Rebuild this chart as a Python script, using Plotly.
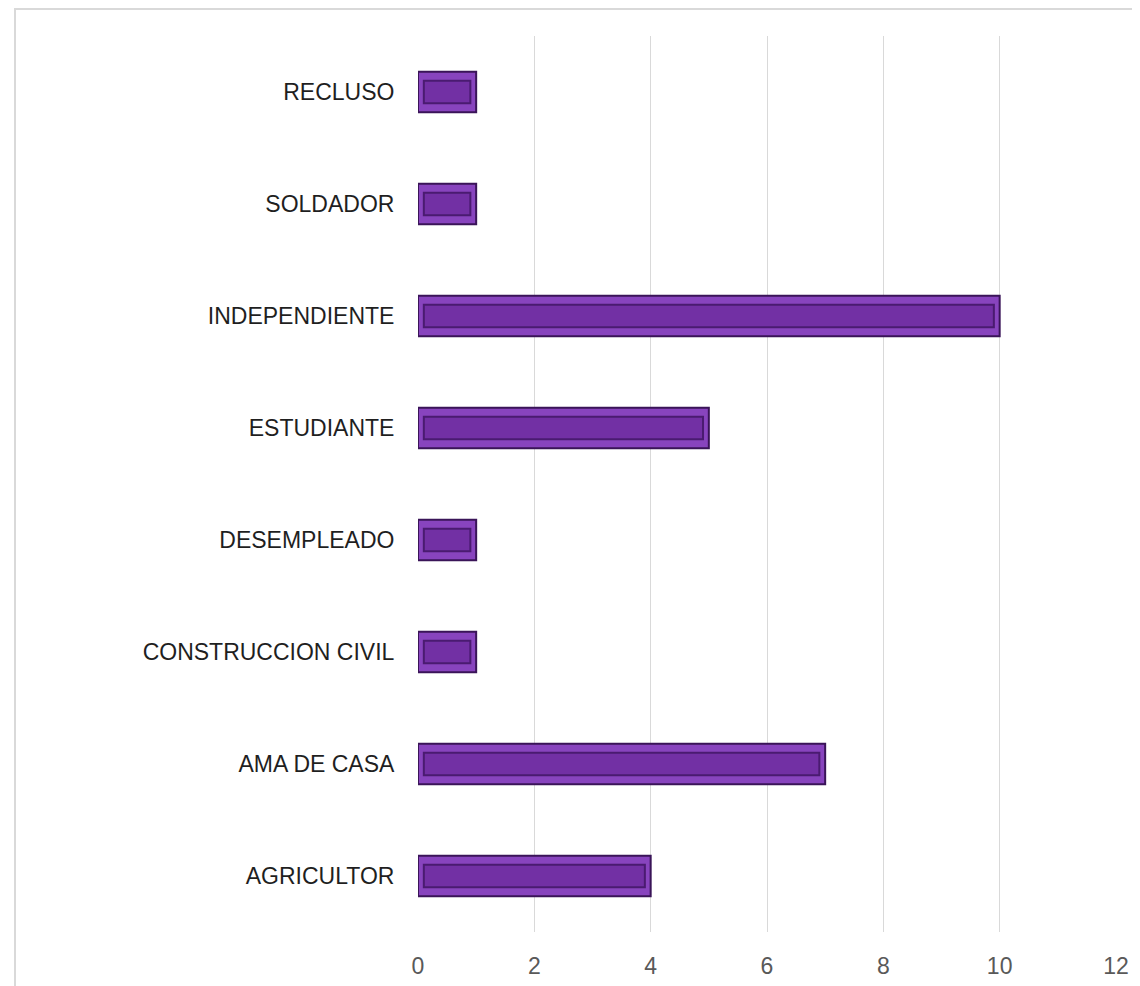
import plotly.graph_objects as go

categories = ["AGRICULTOR", "AMA DE CASA", "CONSTRUCCION CIVIL", "DESEMPLEADO",
              "ESTUDIANTE", "INDEPENDIENTE", "SOLDADOR", "RECLUSO"]
values = [4, 7, 1, 1, 5, 10, 1, 1]
x_ticks = [0, 2, 4, 6, 8, 10, 12]

# page body adds an 8px offset, so the figure is slightly smaller than the window
W, H = 1132, 978
L, R, T, B = 410, 24, 28, 54
pw, ph = W - L - R, H - T - B

fig = go.Figure()
# outer bevel bar
fig.add_trace(go.Bar(
    y=categories, x=values, orientation="h", width=0.36,
    marker=dict(color="#8844BE", line=dict(color="#3A1458", width=2)),
    hoverinfo="x+y", showlegend=False,
))
# inner face of the bevel
inset = 0.1
fig.add_trace(go.Bar(
    y=categories, x=[v - 2 * inset for v in values], base=[inset] * len(values),
    orientation="h", width=0.2,
    marker=dict(color="#7230A4", line=dict(color="#4A1B70", width=2)),
    hoverinfo="skip", showlegend=False,
))

fig.update_layout(
    width=W, height=H,
    margin=dict(l=L, r=R, t=T, b=B),
    paper_bgcolor="white", plot_bgcolor="white",
    barmode="overlay",
    font=dict(family="Liberation Sans, Arial, sans-serif"),
    xaxis=dict(
        range=[0, 12], tickvals=x_ticks, ticktext=[str(t) for t in x_ticks],
        showgrid=True, gridcolor="#D9D9D9", gridwidth=1, zeroline=False,
        showline=False, ticks="outside", ticklen=13, tickcolor="rgba(0,0,0,0)",
        automargin=False,
        tickfont=dict(size=23, color="#595959",
                      family="Liberation Sans Narrow, Liberation Sans, sans-serif"),
    ),
    yaxis=dict(
        showgrid=False, zeroline=False, showline=False,
        ticks="outside", ticklen=18, tickcolor="rgba(0,0,0,0)",
        automargin=False,
        tickfont=dict(size=23, color="#1F1F1F"),
    ),
    shapes=[dict(
        type="rect", xref="paper", yref="paper",
        x0=(7 - L) / pw, x1=(W + 20 - L) / pw,
        y0=1 - (H + 20 - T) / ph, y1=1 - (1 - T) / ph,
        line=dict(color="#D9D9D9", width=2), fillcolor="rgba(0,0,0,0)", layer="below",
    )],
)

fig.write_html("out.html")
